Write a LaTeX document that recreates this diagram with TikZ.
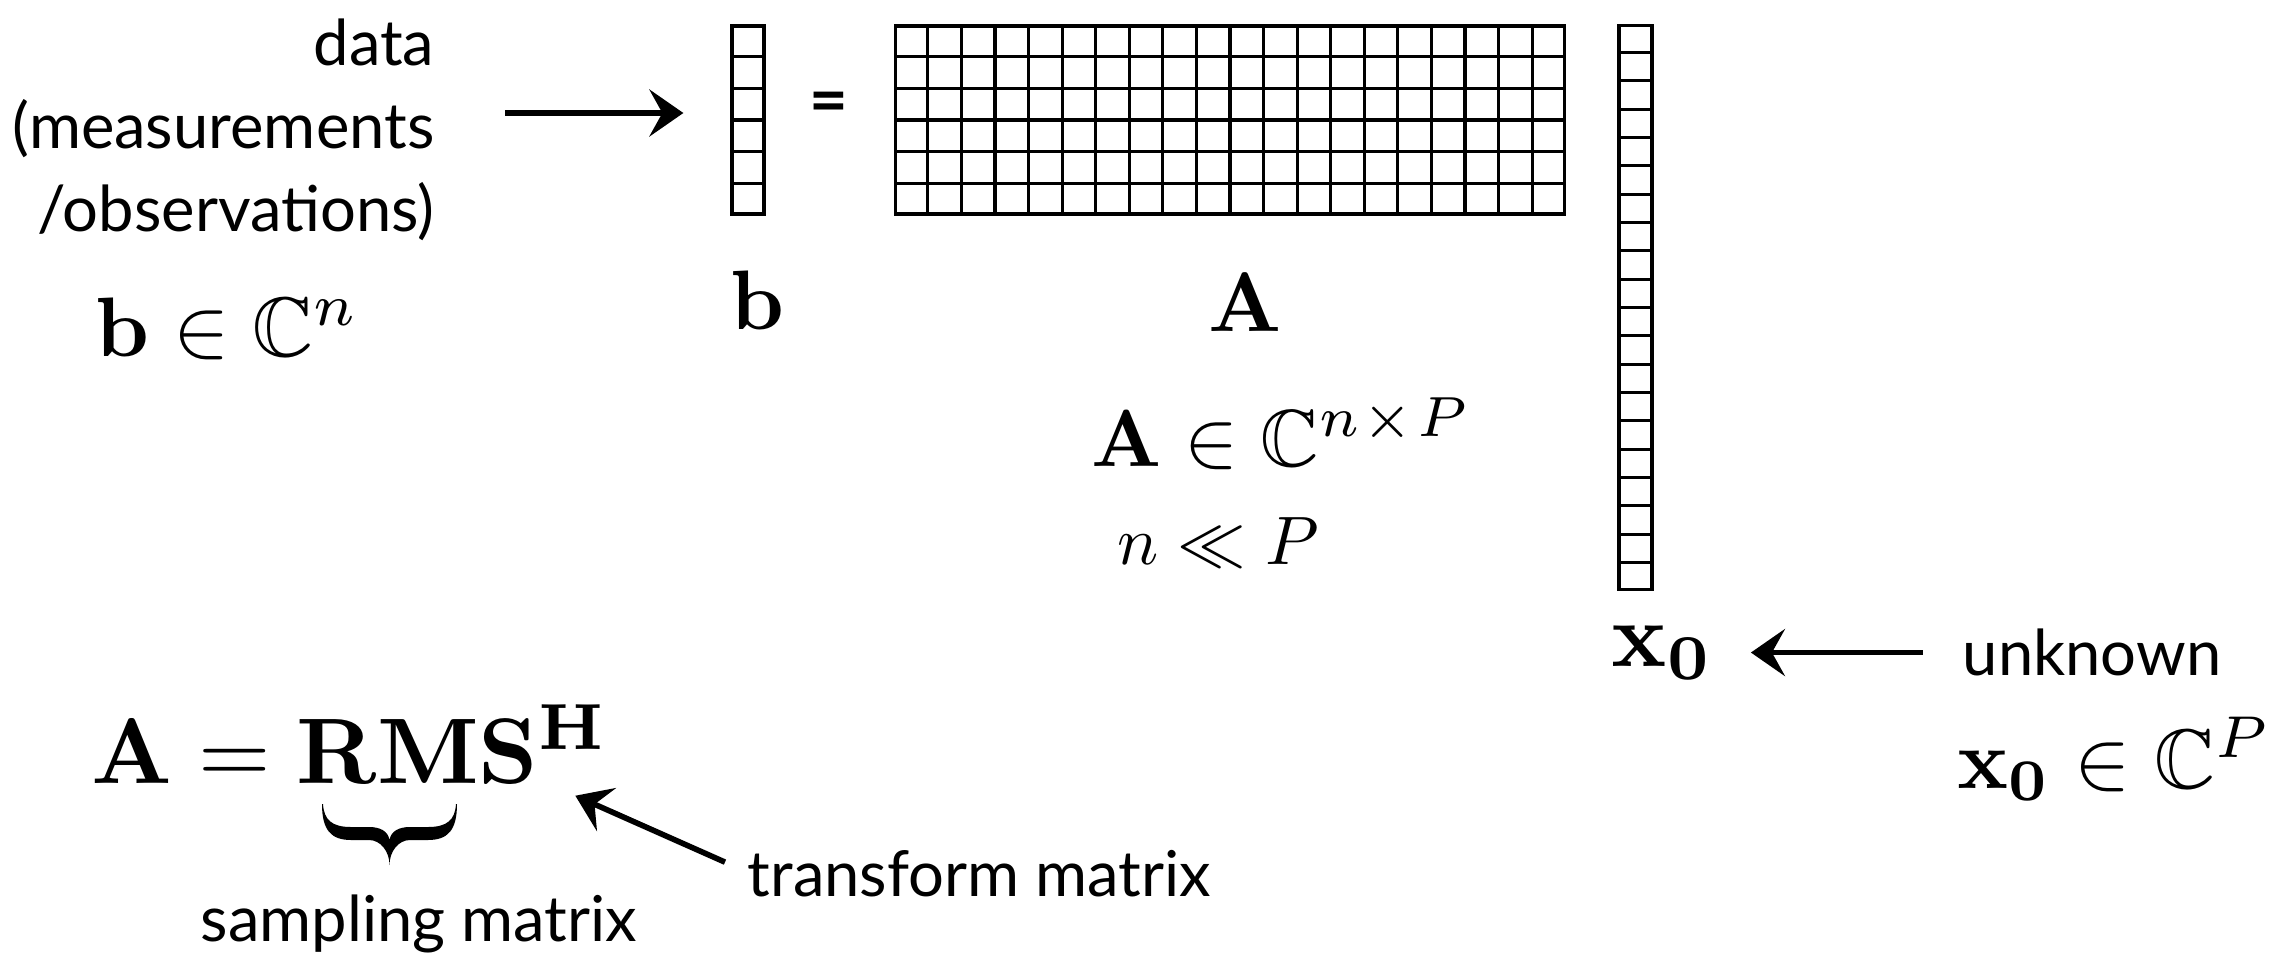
\RequirePackage{fix-cm}
\documentclass[tikz,border=0pt]{standalone}
\usepackage{amsmath}
\usepackage{amssymb}
\usepackage[no-math]{fontspec}
\newfontfamily\labelfont{Lato}
\usetikzlibrary{positioning,arrows.meta,calc}
\newcommand{\bigmath}[2]{\scalebox{#1}{$#2$}}

\begin{document}
\begin{tikzpicture}[
  x=0.01cm, y=-0.01cm,
  lbl/.style ={font=\labelfont\fontsize{18}{23.6}\selectfont, inner sep=0pt},
  mth/.style ={inner sep=0pt},
  mtx/.style ={draw=black, line width=0.9pt, inner sep=0pt, fill=white},
  cell/.style={line width=0.9pt},
  ar/.style  ={-{Stealth[length=3.4mm,width=4.7mm,inset=1.3mm]}, line width=1.6pt},
]
\useasboundingbox (0,0) rectangle (2296,960);

% ---- the three arrays ----
\node[mtx, minimum width=3.2mm,  minimum height=18.8mm] (bvec) at (748,120) {};
\node[mtx, minimum width=66.8mm, minimum height=18.8mm] (Amat) at (1230,120) {};
\node[mtx, minimum width=3.3mm,  minimum height=56.3mm] (xvec) at (1635.5,307.5) {};

\foreach \i in {1,...,5} {
  \draw[cell] ($(bvec.north west)!\i/6!(bvec.south west)$) -- ($(bvec.north east)!\i/6!(bvec.south east)$);
  \draw[cell] ($(Amat.north west)!\i/6!(Amat.south west)$) -- ($(Amat.north east)!\i/6!(Amat.south east)$);
}
\foreach \i in {1,...,19} {
  \draw[cell] ($(Amat.north west)!\i/20!(Amat.north east)$) -- ($(Amat.south west)!\i/20!(Amat.south east)$);
  \draw[cell] ($(xvec.north west)!\i/20!(xvec.south west)$) -- ($(xvec.north east)!\i/20!(xvec.south east)$);
}

% ---- labels ----
\node[lbl, align=right, anchor=east] (data) at (435,130) {data\\(measurements\\/observations)};
\node[mth, anchor=base west] (bset) at (95,356) {\bigmath{2.4}{\mathbf{b}\in\mathbb{C}^n}};
\node[lbl, font=\labelfont\bfseries\fontsize{19}{19}\selectfont] (eq) at (829,108) {=};
\node[mth, anchor=base] (blab) at (757,329) {\bigmath{2.4}{\mathbf{b}}};
\node[mth, anchor=base] (Alab) at (1245,331) {\bigmath{2.4}{\mathbf{A}}};
\node[mth, anchor=base west] (Aset) at (1091,466) {\bigmath{2.3}{\mathbf{A}\in\mathbb{C}^{n\mskip1mu\times\mskip1mu P}}};
\node[mth, anchor=base west] (ineq) at (1117,564) {\bigmath{1.95}{n\ll P}};
\node[mth, anchor=base west] (xlab) at (1611,666) {\bigmath{2.6}{\mathbf{x_0}}};
\node[lbl, anchor=base west] (unk) at (1962,675) {unknown};
\node[mth, anchor=base west] (xset) at (1957,788) {\bigmath{2.4}{\mathbf{x_0}\in\mathbb{C}^P}};
\node[mth, anchor=base west] (rms) at (91,783) {\bigmath{2.65}{\mathbf{A}=\mathbf{RMS^H}}};
\node[lbl, anchor=base] (samp) at (419,941) {sampling matrix};
\node[lbl, anchor=base west] (trf) at (747,896) {transform matrix};

% ---- brace under RM ----
\coordinate (brc) at (323,804);
\begin{scope}[shift={(brc)}]
  \fill (-1,0) .. controls (-1,26) and (8,36) .. (28,36) -- (46,36)
        .. controls (58,36) and (66.5,48) .. (66.5,61)
        .. controls (66.5,48) and (75,36) .. (87,36) -- (105,36)
        .. controls (125,36) and (134,26) .. (134,0) -- (133,0)
        .. controls (132,16) and (124,23) .. (105,23) -- (87,23)
        .. controls (76,23) and (68,27) .. (66.5,36)
        .. controls (65,27) and (57,23) .. (46,23) -- (28,23)
        .. controls (9,23) and (1,16) .. (0,0) -- cycle;
\end{scope}

% ---- arrows ----
\coordinate (datarow) at ([yshift=0.7mm]bvec.west);
\draw[ar, shorten <=7mm, shorten >=4.7mm] (data.east |- datarow) -- (datarow);
\draw[ar, shorten <=3.9mm, shorten >=3.7mm] (unk.west |- xlab.east) -- (xlab.east);
\draw[ar] ([xshift=-2.2mm,yshift=-1.3mm]trf.north west) -- ([xshift=-3.4mm,yshift=-1.2mm]rms.south east);
\end{tikzpicture}
\end{document}
